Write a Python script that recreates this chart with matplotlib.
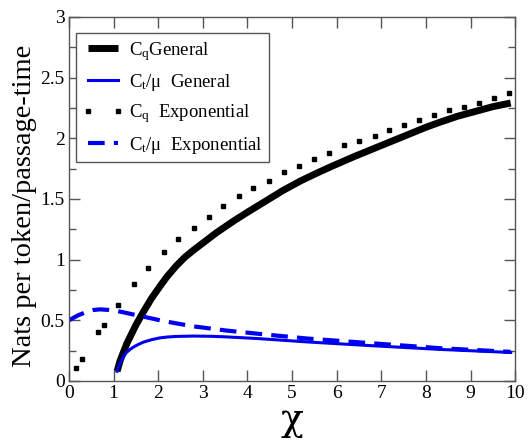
import matplotlib
matplotlib.use("Agg")
import matplotlib.pyplot as plt
from matplotlib.ticker import MultipleLocator

plt.rcParams['font.family'] = ['Liberation Serif', 'DejaVu Serif']
plt.rcParams['mathtext.fontset'] = 'custom'
plt.rcParams['mathtext.rm'] = 'Liberation Serif'
plt.rcParams['mathtext.it'] = 'Liberation Serif:italic'

# C_q General (thick black)
cq_gen_x = [1.08, 1.15, 1.3, 1.5, 1.67, 1.85, 2.04, 2.2, 2.41, 2.6, 2.8, 3.05, 3.3, 3.7, 4.0,
            4.4, 4.8, 5.2, 5.6, 5.9, 6.4, 6.8, 7.2, 7.6, 8.0, 8.3, 8.7, 9.1, 9.5, 9.9]
cq_gen_y = [0.08, 0.17, 0.31, 0.46, 0.57, 0.68, 0.78, 0.86, 0.95, 1.02, 1.08, 1.15, 1.22, 1.32, 1.39,
            1.48, 1.57, 1.65, 1.72, 1.77, 1.85, 1.91, 1.97, 2.03, 2.09, 2.13, 2.18, 2.22, 2.26, 2.29]

# C_t/mu General (thin blue)
ct_gen_x = [1.08, 1.15, 1.22, 1.29, 1.37, 1.45, 1.55, 1.67, 1.85, 2.04, 2.2, 2.4, 2.79, 3.2,
            3.54, 4.21, 5.33, 6.82, 8.32, 9.9]
ct_gen_y = [0.08, 0.15, 0.2, 0.235, 0.26, 0.28, 0.3, 0.32, 0.34, 0.355, 0.362, 0.367, 0.37, 0.368,
            0.363, 0.35, 0.322, 0.29, 0.26, 0.235]

# C_q Exponential (dots)
cq_exp_x = [0.17, 0.29, 0.65, 0.78, 1.11, 1.45, 1.78, 2.12, 2.45, 2.80, 3.14, 3.46, 3.81, 4.13,
            4.48, 4.83, 5.15, 5.49, 5.82, 6.17, 6.51, 6.85, 7.18, 7.51, 7.85, 8.19, 8.52, 8.86,
            9.19, 9.53, 9.87]
cq_exp_y = [0.11, 0.18, 0.40, 0.46, 0.63, 0.80, 0.93, 1.06, 1.17, 1.26, 1.35, 1.44, 1.52, 1.59,
            1.65, 1.72, 1.77, 1.83, 1.88, 1.94, 1.98, 2.02, 2.07, 2.11, 2.15, 2.19, 2.23, 2.26,
            2.29, 2.33, 2.37]

# C_t/mu Exponential (dashed blue)
ct_exp_x = [0.0, 0.2, 0.4, 0.55, 0.7, 0.9, 1.1, 1.29, 1.67, 2.04, 2.4, 2.79, 3.54, 4.21, 5.33,
            6.82, 8.32, 9.9]
ct_exp_y = [0.50, 0.54, 0.57, 0.585, 0.59, 0.585, 0.575, 0.56, 0.53, 0.50, 0.475, 0.45, 0.415,
            0.39, 0.35, 0.31, 0.27, 0.24]

fig = plt.figure(figsize=(5.3, 4.43), dpi=100)
ax = fig.add_axes([0.130, 0.140, 0.842, 0.822])

ax.plot(cq_gen_x, cq_gen_y, color='black', lw=5, solid_capstyle='butt', label=r'C$_\mathrm{q}$General')
ax.plot(ct_gen_x, ct_gen_y, color='#0000ee', lw=2.2, label=r'C$_\mathrm{t}$/$\mathrm{\mu}$  General')
ax.plot(cq_exp_x, cq_exp_y, ls='none', marker='s', ms=3.4, color='black',
        label=r'C$_\mathrm{q}$  Exponential')
ax.plot(ct_exp_x, ct_exp_y, color='#0000ee', lw=3, ls=(0, (4, 2.2)),
        label=r'C$_\mathrm{t}$/$\mathrm{\mu}$  Exponential')

ax.set_xlim(0, 10)
ax.set_ylim(0, 3)
ax.xaxis.set_major_locator(MultipleLocator(1))
ax.yaxis.set_minor_locator(MultipleLocator(0.25))
ax.set_yticks([0, 0.5, 1, 1.5, 2, 2.5, 3])
ax.set_yticklabels(['0', '0.5', '1', '1.5', '2', '2.5', '3'])
ax.tick_params(which='both', direction='in', top=True, right=True, color='#555555',
               labelsize=14, pad=3)
ax.tick_params(which='major', length=8, width=1)
ax.tick_params(which='minor', length=5, width=1)
for s in ax.spines.values():
    s.set_color('#555555')
    s.set_linewidth(1)

ax.set_xlabel('χ', fontsize=27, family=['DejaVu Serif'], labelpad=0)
ax.set_ylabel('Nats per token/passage-time', fontsize=20.5)
ax.yaxis.set_label_coords(-0.072, 0.48)

leg = ax.legend(loc='upper left', bbox_to_anchor=(0.015, 0.955), fontsize=13.5, numpoints=2,
                fancybox=False, framealpha=1, edgecolor='#555555', handlelength=2.2,
                handletextpad=0.3, labelspacing=0.5, borderpad=0.35, borderaxespad=0)
leg.get_frame().set_linewidth(1)

fig.savefig('out.png', dpi=100)
